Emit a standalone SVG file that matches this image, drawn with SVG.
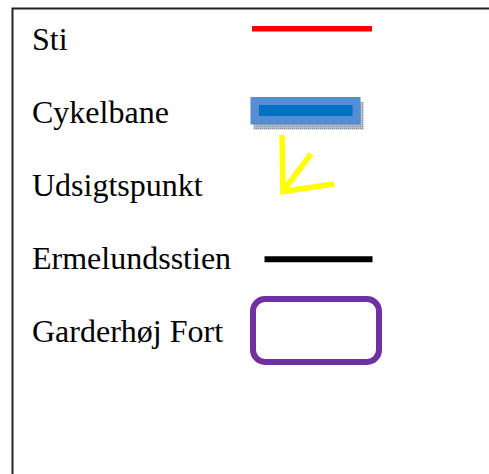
<svg xmlns="http://www.w3.org/2000/svg" width="489" height="474" viewBox="0 0 489 474">
<style>
.lbl{font-family:"Liberation Serif","Times New Roman",serif;font-size:32px;fill:#000}
</style>
<defs>
<pattern id="dots" width="2" height="2" patternUnits="userSpaceOnUse">
<rect width="2" height="2" fill="#b8bec8"/>
<rect width="1" height="1" fill="#8a93a3"/>
</pattern>
</defs>
<rect width="489" height="474" fill="#fff"/>
<g id="frame">
<rect x="12.5" y="8.5" width="500" height="500" fill="none" stroke="#222" stroke-width="2"/>
</g>
<g id="sti">
<text class="lbl" x="32" y="49.5">Sti</text>
<line x1="252" y1="28.8" x2="372" y2="28.8" stroke="#ff0000" stroke-width="5.5"/>
</g>
<g id="cykelbane">
<text class="lbl" x="32" y="122.5">Cykelbane</text>
<rect x="253.5" y="102" width="110" height="27.5" fill="url(#dots)"/>
<rect x="250.5" y="97" width="110" height="27.5" fill="#558ed5"/>
<rect x="259" y="105" width="93.5" height="11" fill="#0070c0"/>
</g>
<g id="udsigtspunkt">
<text class="lbl" x="32" y="195.5">Udsigtspunkt</text>
<path d="M282 135 L283 191.5 L334 184 M311 154 L284 190" fill="none" stroke="#ffff00" stroke-width="5.5"/>
</g>
<g id="ermelundsstien">
<text class="lbl" x="32" y="268.5">Ermelundsstien</text>
<line x1="264.5" y1="259.3" x2="372.5" y2="259.3" stroke="#000" stroke-width="6"/>
</g>
<g id="garderhoej">
<text class="lbl" x="32" y="341.5">Garderhøj Fort</text>
<rect x="253" y="299" width="126" height="63" rx="12" ry="12" fill="none" stroke="#7030a0" stroke-width="6"/>
</g>
<g id="connectors"/>
</svg>
